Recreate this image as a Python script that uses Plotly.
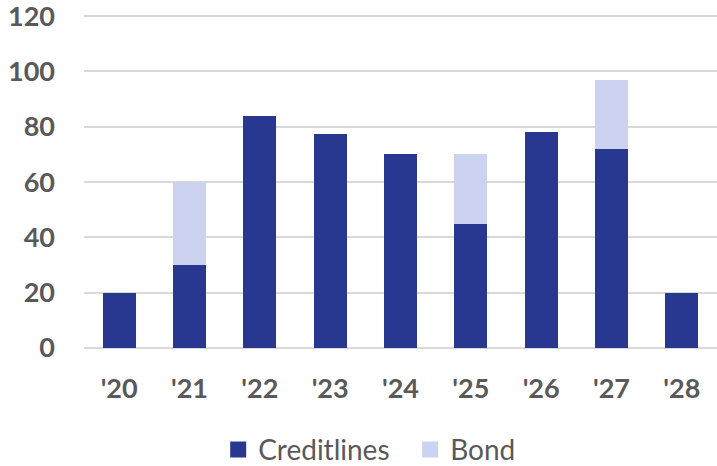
import plotly.graph_objects as go

# Maturity profile by year (EUR m)
years = ["'20", "'21", "'22", "'23", "'24", "'25", "'26", "'27", "'28"]
creditlines = [20, 30, 84, 77.5, 70, 45, 78, 72, 20]
bond = [0, 30, 0, 0, 0, 25, 0, 25, 0]

navy = "#283891"
light = "#CCD3F0"
text_grey = "#595959"
font_family = "Lato, Open Sans, sans-serif"

fig = go.Figure()
fig.add_trace(go.Bar(x=years, y=creditlines, name="Creditlines",
                     marker=dict(color=navy, line=dict(width=0)),
                     showlegend=False))
fig.add_trace(go.Bar(x=years, y=bond, name="Bond",
                     marker=dict(color=light, line=dict(width=0)),
                     showlegend=False))

# Legend entries drawn as square markers
fig.add_trace(go.Scatter(x=[None], y=[None], mode="markers", name="Creditlines",
                         marker=dict(symbol="square", size=18, color=navy)))
fig.add_trace(go.Scatter(x=[None], y=[None], mode="markers", name="Bond",
                         marker=dict(symbol="square", size=18, color=light)))

fig.update_layout(
    width=717, height=466,
    barmode="stack",
    bargap=0.53,
    plot_bgcolor="white",
    paper_bgcolor="white",
    margin=dict(l=84, r=0, t=15, b=118, autoexpand=False),
    font=dict(family=font_family, color=text_grey),
    legend=dict(orientation="h", traceorder="normal",
                x=0.212, xanchor="left", yref="container", y=0.035, yanchor="middle",
                font=dict(size=28, family=font_family, color=text_grey),
                itemwidth=30, entrywidth=147, bgcolor="rgba(0,0,0,0)"),
)
fig.update_xaxes(
    showgrid=False, showline=False, zeroline=False, ticks="",
    tickfont=dict(size=27, family=font_family, color=text_grey, weight="bold"),
    ticklabelstandoff=22, automargin=False,
)
fig.update_yaxes(
    range=[0, 120.4], tickvals=[0, 20, 40, 60, 80, 100, 120],
    showgrid=True, gridcolor="#D9D9D9", gridwidth=2,
    zeroline=True, zerolinecolor="#D9D9D9", zerolinewidth=2,
    showline=False, ticks="", ticklabeloverflow="allow",
    tickfont=dict(size=27, family=font_family, color=text_grey, weight="bold"),
    ticklabelstandoff=28, automargin=False,
)

fig.write_html("out.html")
